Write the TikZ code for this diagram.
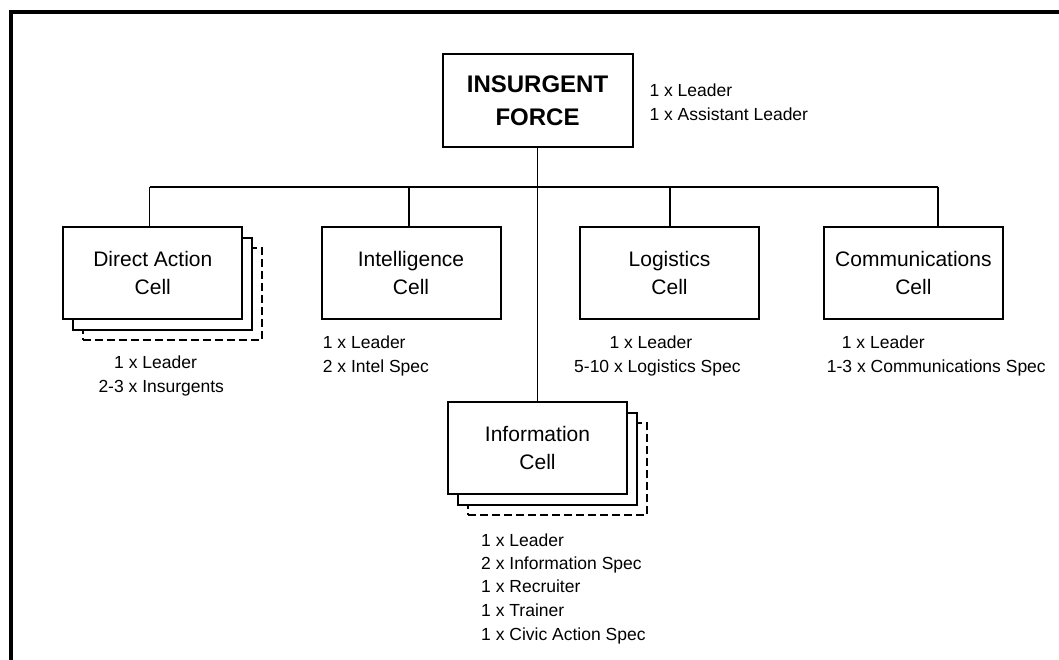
\documentclass[tikz,border=0pt]{standalone}
\usepackage{fontspec}
\setmainfont{Liberation Sans}
\usetikzlibrary{calc}
\tikzset{
  cellbox/.style={draw=black, line width=2pt, fill=white, inner sep=0pt,
    minimum width=179pt, minimum height=92pt, align=center,
    font=\fontsize{21}{27.7}\selectfont},
  topbox/.style={draw=black, line width=2pt, fill=white, inner sep=0pt,
    minimum width=190pt, minimum height=93pt, align=center,
    font=\fontsize{24}{33.3}\selectfont\bfseries},
  backbox/.style={draw=black, line width=2pt, fill=white, inner sep=0pt,
    minimum width=179pt, minimum height=92pt},
  dashbox/.style={draw=black, line width=2pt, dash pattern=on 8pt off 4pt, inner sep=0pt,
    minimum width=179pt, minimum height=92pt},
  link/.style={draw=black, line width=1.8pt},
  annot/.style={anchor=base west, inner sep=0pt, font=\fontsize{17.5}{23.5}\selectfont},
}
\begin{document}
\begin{tikzpicture}[x=1pt,y=-1pt]
\useasboundingbox (0,0) rectangle (1059,660);
% outer frame
\draw[line width=4pt] (11,664) -- (11,12) -- (1063,12);

% top node
\node[topbox] (top) at (537.5,100.5) {INSURGENT\\FORCE};
\node[annot] (topA) at (649.3,96.7) {1 x Leader};
\node[annot] (topB) at (649.3,120.3) {1 x Assistant Leader};

% bus coordinates
\coordinate (busL) at (149.5,187);
\coordinate (busR) at (938,187);
\coordinate (busI) at (409,187);
\coordinate (busG) at (670,187);
\coordinate (busM) at (537.5,187);

% Direct action stack
\node[dashbox] (da3) at (172.2,294) {};
\node[backbox] (da2) at (162.8,283.7) {};
\node[cellbox] (da) at (152.8,273) {Direct Action\\Cell};
\node[annot] (daA) at (114,368.3) {1 x Leader};
\node[annot] (daB) at (98.3,392.7) {2-3 x Insurgents};

% Intelligence
\node[cellbox] (intel) at (411,273) {Intelligence\\Cell};
\node[annot] (inA) at (322.7,348.3) {1 x Leader};
\node[annot] (inB) at (322.7,372.7) {2 x Intel Spec};

% Logistics
\node[cellbox] (logi) at (669.5,273) {Logistics\\Cell};
\node[annot] (lgA) at (609.3,348.3) {1 x Leader};
\node[annot] (lgB) at (574,372.7) {5-10 x Logistics Spec};

% Communications
\node[cellbox] (comm) at (913.4,273) {Communications\\Cell};
\node[annot] (cmA) at (841.7,348.3) {1 x Leader};
\node[annot] (cmB) at (826.7,372.7) {1-3 x Communications Spec};

% Information stack
\node[dashbox] (inf3) at (557.5,469) {};
\node[backbox] (inf2) at (547.5,459) {};
\node[cellbox] (info) at (537.5,448.3) {Information\\Cell};
\node[annot] (ifA) at (481,546) {1 x Leader};
\node[annot] (ifB) at (481,569.7) {2 x Information Spec};
\node[annot] (ifC) at (481,592.8) {1 x Recruiter};
\node[annot] (ifD) at (481,616.2) {1 x Trainer};
\node[annot] (ifE) at (481,640) {1 x Civic Action Spec};

% connectors
\draw[link] (busL) -- (busR);
\draw[link] (top.south) -- (info.north);
\draw[link] (busL) -- (busL |- da.north);
\draw[link] (busI) -- (busI |- intel.north);
\draw[link] (busG) -- (busG |- logi.north);
\draw[link] (busR) -- (busR |- comm.north);
\end{tikzpicture}
\end{document}
